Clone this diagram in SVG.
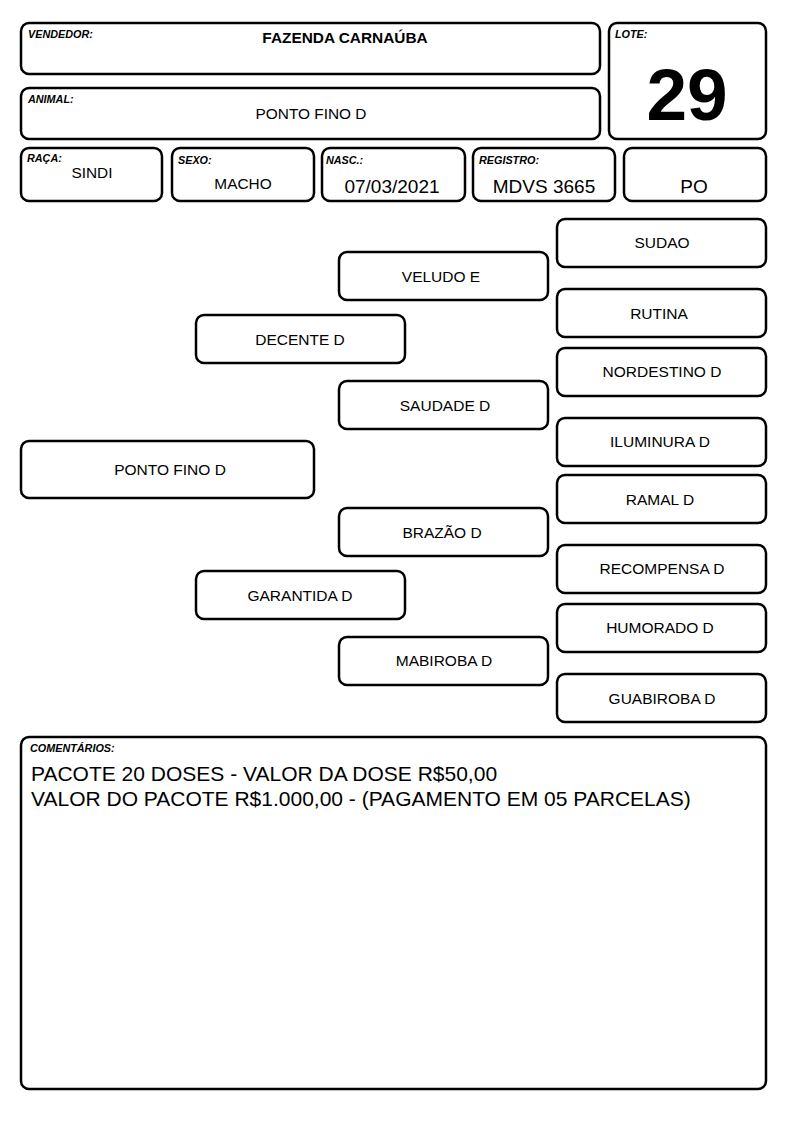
<svg xmlns="http://www.w3.org/2000/svg" width="794" height="1123" viewBox="0 0 794 1123">
<style>
rect{fill:#fff;stroke:#000;stroke-width:2.5}
text{font-family:"Liberation Sans",Arial,sans-serif;fill:#000}
.lbl{font-size:10.8px;font-weight:bold;font-style:italic}
.v{font-size:15.4px;text-anchor:middle}
.v2{font-size:19px;text-anchor:middle}
.n{font-size:15.5px;text-anchor:middle}
</style>
<rect x="0" y="0" width="794" height="1123" style="stroke:none"/>
<g id="vendedor"><rect x="21" y="23" width="579" height="51" rx="8"/><text class="lbl" x="28" y="38">VENDEDOR:</text><text class="v" x="345" y="43" font-size="16" font-weight="bold">FAZENDA CARNAÚBA</text></g>
<g id="lote"><rect x="609" y="23" width="157" height="116" rx="8"/><text class="lbl" x="615" y="38">LOTE:</text><text x="687" y="120" font-size="73" font-weight="bold" text-anchor="middle">29</text></g>
<g id="animal"><rect x="21" y="88" width="579" height="51" rx="8"/><text class="lbl" x="28" y="103">ANIMAL:</text><text class="v" x="311" y="119">PONTO FINO D</text></g>
<g id="raca"><rect x="21" y="148" width="141" height="53" rx="8"/><text class="lbl" x="27" y="162">RAÇA:</text><text class="v" x="92" y="178" font-size="13.2">SINDI</text></g>
<g id="sexo"><rect x="172" y="148" width="142" height="53" rx="8"/><text class="lbl" x="178" y="164">SEXO:</text><text class="v" x="243" y="189" font-size="13.3">MACHO</text></g>
<g id="nasc"><rect x="322" y="148" width="143" height="53" rx="8"/><text class="lbl" x="326" y="164">NASC.:</text><text class="v2" x="392" y="193">07/03/2021</text></g>
<g id="registro"><rect x="473" y="148" width="142" height="53" rx="8"/><text class="lbl" x="479" y="164">REGISTRO:</text><text class="v2" x="544" y="193">MDVS 3665</text></g>
<g id="po"><rect x="624" y="148" width="142" height="53" rx="8"/><text class="v2" x="694" y="193">PO</text></g>
<g id="connectors"></g>
<g id="n-ponto"><rect x="21" y="441" width="293" height="57" rx="8"/><text class="n" x="170" y="475">PONTO FINO D</text></g>
<g id="n-decente"><rect x="196" y="315" width="209" height="48" rx="8"/><text class="n" x="300" y="345">DECENTE D</text></g>
<g id="n-garantida"><rect x="196" y="571" width="209" height="48" rx="8"/><text class="n" x="300" y="601">GARANTIDA D</text></g>
<g id="n-veludo"><rect x="339" y="252" width="209" height="48" rx="8"/><text class="n" x="441" y="282">VELUDO E</text></g>
<g id="n-saudade"><rect x="339" y="381" width="209" height="48" rx="8"/><text class="n" x="445" y="411">SAUDADE D</text></g>
<g id="n-brazao"><rect x="339" y="508" width="209" height="48" rx="8"/><text class="n" x="442" y="538">BRAZÃO D</text></g>
<g id="n-mabiroba"><rect x="339" y="637" width="209" height="48" rx="8"/><text class="n" x="444" y="666">MABIROBA D</text></g>
<g id="n-sudao"><rect x="557" y="219" width="209" height="48" rx="8"/><text class="n" x="662" y="248">SUDAO</text></g>
<g id="n-rutina"><rect x="557" y="289" width="209" height="48" rx="8"/><text class="n" x="659" y="319">RUTINA</text></g>
<g id="n-nordestino"><rect x="557" y="348" width="209" height="48" rx="8"/><text class="n" x="662" y="377">NORDESTINO D</text></g>
<g id="n-iluminura"><rect x="557" y="418" width="209" height="48" rx="8"/><text class="n" x="660" y="447">ILUMINURA D</text></g>
<g id="n-ramal"><rect x="557" y="475" width="209" height="48" rx="8"/><text class="n" x="660" y="505">RAMAL D</text></g>
<g id="n-recompensa"><rect x="557" y="545" width="209" height="48" rx="8"/><text class="n" x="662" y="574">RECOMPENSA D</text></g>
<g id="n-humorado"><rect x="557" y="604" width="209" height="48" rx="8"/><text class="n" x="660" y="633">HUMORADO D</text></g>
<g id="n-guabiroba"><rect x="557" y="674" width="209" height="48" rx="8"/><text class="n" x="662" y="704">GUABIROBA D</text></g>
<g id="comentarios"><rect x="21" y="737" width="745" height="352" rx="8"/><text class="lbl" x="30" y="752">COMENTÁRIOS:</text><text x="31" y="781" font-size="21">PACOTE 20 DOSES - VALOR DA DOSE R$50,00</text><text x="31" y="806" font-size="21">VALOR DO PACOTE R$1.000,00 - (PAGAMENTO EM 05 PARCELAS)</text></g>
</svg>
